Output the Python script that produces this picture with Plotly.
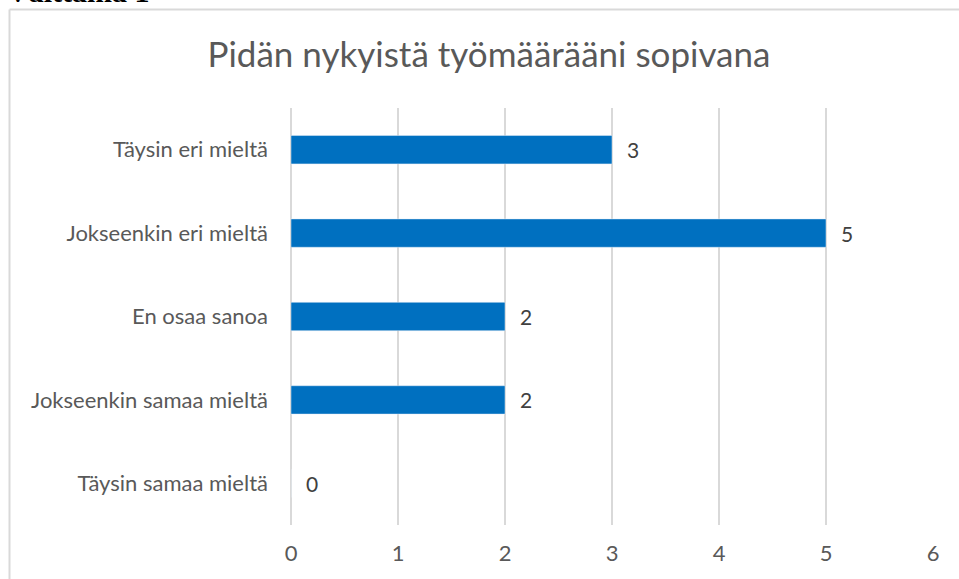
import plotly.graph_objects as go

# 데이터
categories = ["Täysin eri mieltä", "Jokseenkin eri mieltä", "En osaa sanoa",
              "Jokseenkin samaa mieltä", "Täysin samaa mieltä"]
values = [3, 5, 2, 2, 0]
x_ticks = [0, 1, 2, 3, 4, 5, 6]

W, H = 959, 579
L, R, T, B = 291, 26, 108, 54
FONT = "Lato"

fig = go.Figure()

fig.add_trace(go.Bar(
    x=values, y=categories, orientation="h",
    marker_color="#0070C0", width=0.34,
    hoverinfo="x+y",
))


def px_x(p):
    return (p - L) / (W - L - R)


def px_y(p):
    return 1 - (p - T) / (H - T - B)


# 데이터 레이블
annotations = [
    dict(x=v, y=c, xref="x", yref="y", text=str(v), showarrow=False,
         xanchor="left", yanchor="middle", xshift=13,
         font=dict(family=FONT, size=21, color="#404040"))
    for c, v in zip(categories, values)
]
# 잘린 머리글 (원본처럼 윗부분이 잘려 있음)
annotations.append(
    dict(text="<b>Väittämä 1</b>", xref="paper", yref="paper",
         x=px_x(5), y=px_y(-8), xanchor="left", yanchor="middle",
         showarrow=False,
         font=dict(family="Liberation Serif", size=30, color="black"))
)

fig.update_layout(
    width=W, height=H,
    margin=dict(l=L, r=R, t=T, b=B),
    plot_bgcolor="white", paper_bgcolor="white",
    showlegend=False,
    bargap=0.66,
    font=dict(family=FONT, color="#595959"),
    title=dict(text="Pidän nykyistä työmäärääni sopivana",
               x=489 / W, xanchor="center", y=1 - 55 / H, yanchor="middle",
               font=dict(family=FONT, size=35, color="#595959")),
    xaxis=dict(range=[0, 6], tickvals=x_ticks, showgrid=True,
               gridcolor="#D9D9D9", gridwidth=1.5, zeroline=True,
               zerolinecolor="#D9D9D9", zerolinewidth=1.5,
               tickfont=dict(size=22, color="#595959"), ticklabelstandoff=13,
               showline=False, fixedrange=True),
    yaxis=dict(categoryorder="array", categoryarray=categories[::-1],
               tickfont=dict(size=22, color="#595959"), ticklabelstandoff=22,
               showgrid=False, showline=False, fixedrange=True),
    shapes=[
        dict(type="line", xref="paper", yref="paper",
             x0=px_x(9.5), x1=px_x(9.5), y0=px_y(9.5), y1=px_y(H + 5),
             line=dict(color="#D9D9D9", width=2)),
        dict(type="line", xref="paper", yref="paper",
             x0=px_x(9.5), x1=px_x(W + 5), y0=px_y(9.5), y1=px_y(9.5),
             line=dict(color="#D9D9D9", width=2)),
    ],
    annotations=annotations,
)

fig.write_html("out.html",
               config={"displayModeBar": False},
               post_script="document.body.style.margin='0';")
